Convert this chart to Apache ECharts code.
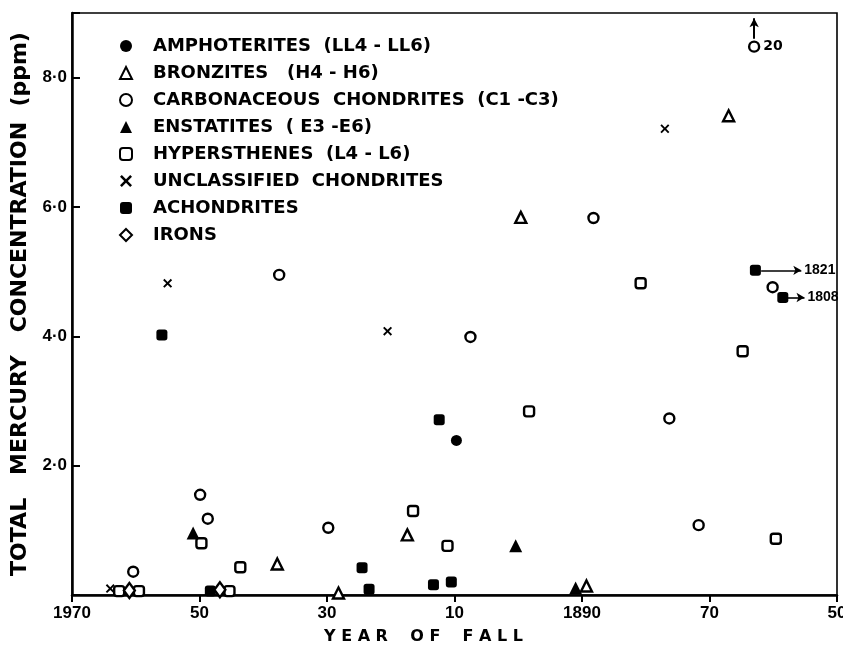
<!DOCTYPE html>
<html>
<head>
<meta charset="utf-8">
<script src="https://cdn.jsdelivr.net/npm/echarts@6/dist/echarts.min.js"></script>
<style>html,body{margin:0;padding:0;background:#fff}#c{width:843px;height:650px}</style>
</head>
<body>
<div id="c"></div>
<script>
// ---- data (year of fall, total Hg ppm) ----
var amphoterites = [[1909.7, 2.39]];
var bronzites = [[1937.8, 0.48], [1928.2, 0.03], [1917.4, 0.93], [1899.6, 5.84], [1889.3, 0.14], [1867.0, 7.41]];
var carbonaceous = [[1949.9, 1.55], [1948.7, 1.18], [1960.4, 0.36], [1929.8, 1.04], [1937.5, 4.95], [1907.5, 3.99],
                    [1888.2, 5.83], [1876.3, 2.73], [1871.7, 1.08], [1863.0, 8.48], [1860.1, 4.76]];
var enstatites = [[1951.0, 0.96], [1900.4, 0.76], [1891.0, 0.11]];
var hypersthenes = [[1949.7, 0.80], [1962.6, 0.06], [1959.5, 0.06], [1945.3, 0.06], [1943.6, 0.43], [1916.5, 1.30],
                    [1911.1, 0.76], [1898.3, 2.84], [1880.8, 4.82], [1864.8, 3.77], [1859.6, 0.87]];
var unclassified = [[1964.0, 0.10], [1955.0, 4.82], [1920.5, 4.08], [1877.0, 7.21]];
var achondrites = [[1955.9, 4.02], [1948.3, 0.06], [1924.5, 0.42], [1923.4, 0.09], [1913.3, 0.16], [1910.5, 0.20],
                   [1912.4, 2.71], [1862.8, 5.02], [1858.5, 4.60]];
var irons = [[1961.0, 0.07], [1946.8, 0.08]];

// off-scale annotations
var offScaleCarb = {year: 1863.0, value: 8.48, text: '20', arrowTo: 8.92};
var offScaleAch = [
  {year: 1862.8, value: 5.02, fromYear: 1861.9, toYear: 1855.6, text: '1821'},
  {year: 1858.5, value: 4.60, fromYear: 1857.7, toYear: 1855.1, text: '1808'}
];

// axis ticks
var xTickYears = [1970, 1950, 1930, 1910, 1890, 1870, 1850];
var xTickText = ['1970', '50', '30', '10', '1890', '70', '50'];
var yTickValues = [2, 4, 6, 8];
var yTickText = ['2·0', '4·0', '6·0', '8·0'];

var names = ['AMPHOTERITES  (LL4 - LL6)', 'BRONZITES   (H4 - H6)', 'CARBONACEOUS  CHONDRITES  (C1 -C3)',
             'ENSTATITES  ( E3 -E6)', 'HYPERSTHENES  (L4 - L6)', 'UNCLASSIFIED  CHONDRITES', 'ACHONDRITES', 'IRONS'];

var X_PATH = 'path://M0,1.5 L1.5,0 L5,3.5 L8.5,0 L10,1.5 L6.5,5 L10,8.5 L8.5,10 L5,6.5 L1.5,10 L0,8.5 L3.5,5 Z';

var open = {color: '#fff', borderColor: '#000', borderWidth: 2.4, opacity: 1};
var solid = {color: '#000', borderColor: '#000', borderWidth: 0, opacity: 1};

function sc(name, data, symbol, size, style, extra) {
  var s = {
    type: 'scatter', name: name, data: data, symbol: symbol, symbolSize: size,
    itemStyle: style, z: 3, silent: true, animation: false
  };
  if (extra) for (var k in extra) s[k] = extra[k];
  return s;
}

var carbData = carbonaceous.map(function (d) {
  if (d[0] === offScaleCarb.year && d[1] === offScaleCarb.value) {
    return {value: d, label: {show: true, position: 'right', distance: 3, formatter: offScaleCarb.text,
      color: '#000', fontFamily: 'DejaVu Sans', fontWeight: 'bold', fontSize: 14}};
  }
  return d;
});

var achLines = offScaleAch.map(function (a) {
  return [{coord: [a.fromYear, a.value]}, {coord: [a.toYear, a.value], label: {formatter: a.text}}];
});

var series = [
  sc(names[0], amphoterites, 'circle', 11, solid),
  sc(names[1], bronzites, 'triangle', 11, open),
  sc(names[2], carbData, 'circle', 10, open, {
    markLine: {
      silent: true, animation: false, symbol: ['none', 'arrow'], symbolSize: [7, 9],
      lineStyle: {color: '#000', width: 2, type: 'solid'}, label: {show: false},
      data: [[{coord: [offScaleCarb.year, offScaleCarb.value + 0.12]}, {coord: [offScaleCarb.year, offScaleCarb.arrowTo]}]]
    }
  }),
  sc(names[3], enstatites, 'triangle', 13, solid),
  sc(names[4], hypersthenes, 'roundRect', 10, open),
  sc(names[5], unclassified, X_PATH, 9, solid),
  sc(names[6], achondrites, 'roundRect', 11, solid, {
    markLine: {
      silent: true, animation: false, symbol: ['none', 'arrow'], symbolSize: [7, 8],
      lineStyle: {color: '#000', width: 1.6, type: 'solid'},
      label: {show: true, position: 'end', distance: 3, color: '#000', fontFamily: 'Liberation Sans',
        fontWeight: 'bold', fontSize: 14},
      data: achLines
    }
  }),
  sc(names[7], irons, 'diamond', [11, 15], open)
];

var chart = echarts.init(document.getElementById('c'), null, {renderer: 'canvas'});
chart.setOption({
  backgroundColor: '#fff',
  animation: false,
  grid: {left: 72, right: 6, top: 13, bottom: 55, outerBoundsMode: 'none', containLabel: false,
    show: true, borderColor: '#000', borderWidth: 1.6, backgroundColor: 'transparent'},
  legend: {
    orient: 'vertical', left: 114, top: 32, itemWidth: 12, itemHeight: 12, itemGap: 9,
    selectedMode: false, data: names,
    textStyle: {fontFamily: 'DejaVu Sans', fontWeight: 'bold', fontSize: 18, color: '#000', lineHeight: 17, padding: [0, 0, 0, 16]}
  },
  xAxis: {
    type: 'value', min: 1850, max: 1970, interval: 20, inverse: true,
    name: 'Y E A R    O F    F A L L', nameLocation: 'middle', nameGap: 34,
    nameTextStyle: {fontFamily: 'DejaVu Sans', fontWeight: 'bold', fontSize: 16, color: '#000', padding: [0, 62, 0, 0]},
    axisLine: {show: true, lineStyle: {color: '#000', width: 2.5}},
    axisTick: {show: true, inside: false, length: 7, lineStyle: {color: '#000', width: 2}},
    splitLine: {show: false},
    axisLabel: {
      margin: 10, color: '#000', fontFamily: 'Liberation Sans', fontWeight: 'bold', fontSize: 17,
      formatter: function (v) { var i = xTickYears.indexOf(Math.round(v)); return i < 0 ? '' : xTickText[i]; }
    }
  },
  yAxis: {
    type: 'value', min: 0, max: 9, interval: 2,
    name: 'TOTAL   MERCURY   CONCENTRATION  (ppm)', nameLocation: 'middle', nameGap: 37,
    nameTextStyle: {fontFamily: 'DejaVu Sans', fontWeight: 'bold', fontSize: 22, color: '#000'},
    axisLine: {show: true, lineStyle: {color: '#000', width: 2.5}},
    axisTick: {show: true, inside: true, length: 8, lineStyle: {color: '#000', width: 2}},
    splitLine: {show: false},
    axisLabel: {
      margin: 5, color: '#000', fontFamily: 'Liberation Sans', fontWeight: 'bold', fontSize: 17,
      formatter: function (v) { var i = yTickValues.indexOf(Math.round(v * 100) / 100); return i < 0 ? '' : yTickText[i]; }
    }
  },
  series: series
});
</script>
</body>
</html>
